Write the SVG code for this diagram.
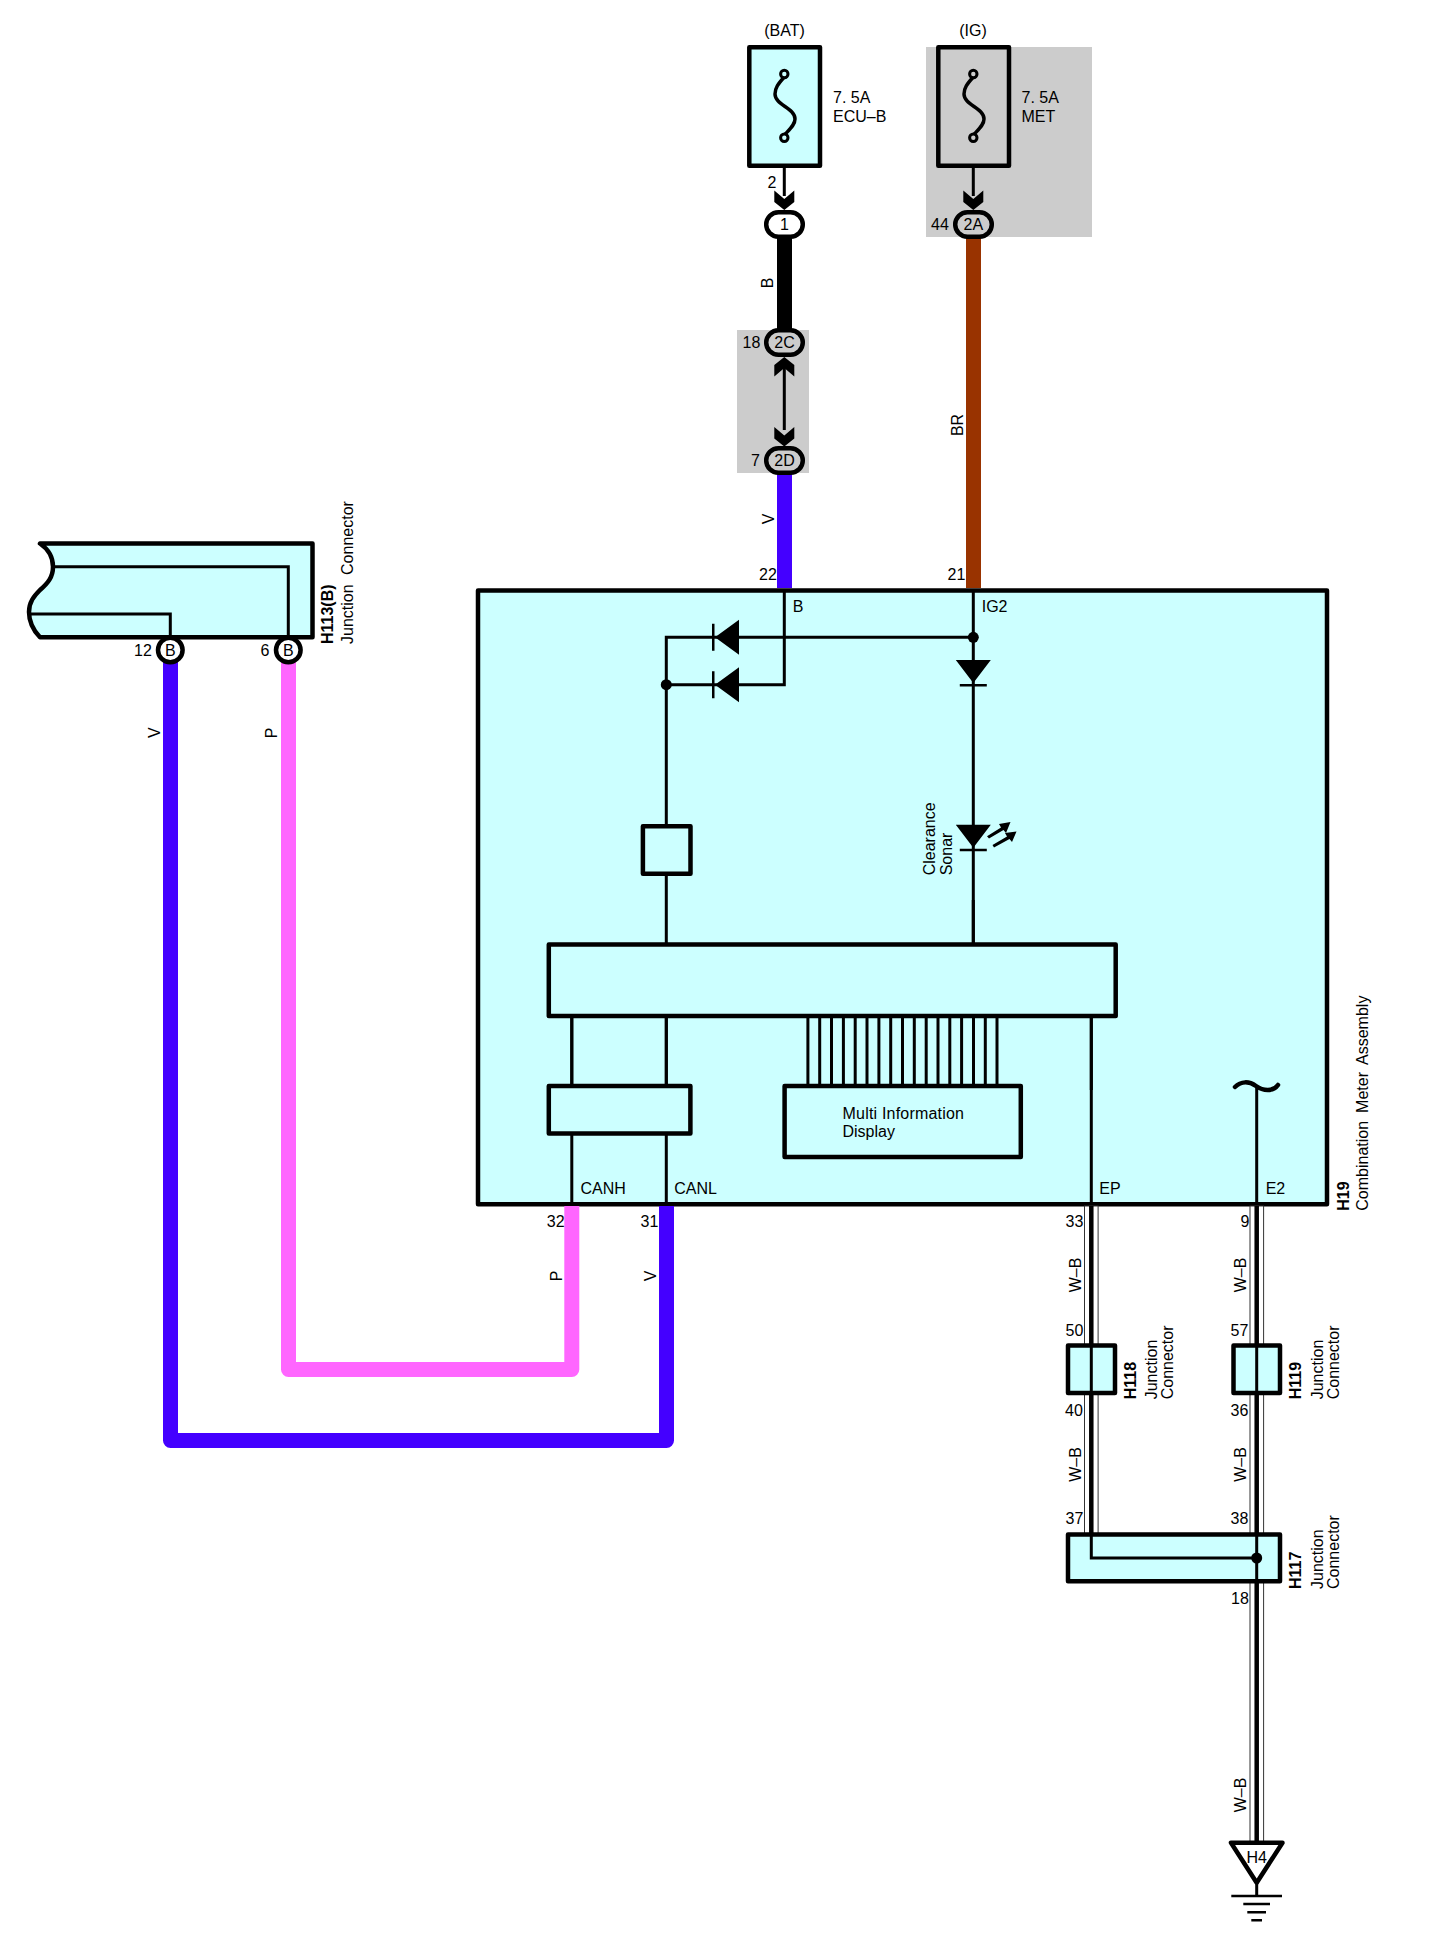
<svg xmlns="http://www.w3.org/2000/svg" width="1440" height="1938" viewBox="0 0 1440 1938">
<style>
text{font-family:"Liberation Sans",Arial,sans-serif;font-size:16px;fill:#000}
.b{font-weight:bold}
.m{text-anchor:middle}
.box{fill:#ccffff;stroke:#000;stroke-width:4.5;stroke-linejoin:round}
.panel{fill:#ccc}
.ln{fill:none;stroke:#000;stroke-width:3}
.thin{fill:none;stroke:#000;stroke-width:2.5}
.wire{fill:none;stroke-width:15;stroke-linejoin:round}
.sh{fill:#fff;stroke:#333;stroke-width:1}
.core{fill:none;stroke:#000;stroke-width:4.5}
.dot{fill:#000}
.fuse{fill:none;stroke:#000;stroke-width:3.5}
.pin{fill:#fff;stroke:#000;stroke-width:3}
.pinG{fill:#ccc;stroke:#000;stroke-width:3}
.conn{stroke:#000;stroke-width:4.5;fill:#fff}
.connG{stroke:#000;stroke-width:4.5;fill:#ccc}
</style>
<defs>
<path id="chev" d="M-10 -19.5 L0 -11 L10 -19.5 L10 -8 L0 0 L-10 -8 Z" fill="#000"/>
<path id="diodeL" d="M0 0 L24 -17.5 L24 17.5 Z M-3 -13.5 H-0.5 V13.5 H-3 Z" fill="#000"/>
<path id="diodeD" d="M-17.5 -24 H17.5 L0 -1 Z M-13.5 0 H13.5 V2.5 H-13.5 Z" fill="#000"/>
</defs>

<rect id="panel-ig" class="panel" x="926" y="47" width="166" height="190"/>
<rect id="panel-2c2d" class="panel" x="737" y="330" width="72" height="143"/>

<g id="main-box">
<rect class="box" x="478" y="590.5" width="849" height="613.8"/>
</g>

<g id="connectors">
<path class="wire" stroke="#000" d="M784.5 238V330"/>
<path class="wire" stroke="#4400ff" d="M784.5 474V588"/>
<path class="wire" stroke="#993300" d="M973.5 238V588"/>
<path class="wire" stroke="#4400ff" d="M170.5 662V1440.5H666.5V1206"/>
<path class="wire" stroke="#ff66ff" d="M288.5 662V1369.5H571.8V1206"/>
<path class="ln" d="M784.3 137V196M973.3 137V196M784.3 366V430"/>
<path class="ln" d="M784.3 591V684.7H666.3V637.3H973.3M973.3 591V944M666.3 684.7V944"/>
<path class="ln" d="M571.8 1016V1204M666.3 1016V1204M1091.3 1016V1204M1256.7 1088V1204"/>
<path class="ln" d="M807.9 1016V1086M819.7 1016V1086M831.5 1016V1086M843.4 1016V1086M855.2 1016V1086M867 1016V1086M878.9 1016V1086M890.7 1016V1086M902.5 1016V1086M914.3 1016V1086M926.2 1016V1086M938 1016V1086M949.8 1016V1086M961.6 1016V1086M973.5 1016V1086M985.3 1016V1086M997 1016V1086"/>
<path class="ln" d="M53 566.7H288.3V637M29 614H170.3V637"/>
<rect class="sh" x="1084.5" y="1206" width="13.6" height="328"/>
<rect class="sh" x="1250" y="1206" width="13.6" height="636"/>
<path class="core" d="M1091.3 1206V1345M1091.3 1393V1536M1256.7 1206V1345M1256.7 1393V1536M1256.7 1581V1842"/>
<path class="ln" d="M1256.7 1883V1896"/>
</g>

<g id="fuse-bat">
<rect class="box" x="749.3" y="47.3" width="70.7" height="118.5"/>
<path class="fuse" d="M784.3 77C778 84 775 88 775 94C775 105 795 108 795 119C795 125 790 129 784.3 135"/>
<circle class="pin" style="fill:#ccffff" cx="784.3" cy="74" r="3.7"/>
<circle class="pin" style="fill:#ccffff" cx="784.3" cy="137.7" r="3.7"/>
<text class="m" x="784.5" y="36">(BAT)</text>
<text x="833" y="103">7. 5A</text>
<text x="833" y="121.5">ECU–B</text>
</g>

<g id="fuse-ig">
<rect class="box" style="fill:#ccc" x="938.3" y="47.3" width="70.7" height="118.5"/>
<path class="fuse" d="M973.3 77C967 84 964 88 964 94C964 105 984 108 984 119C984 125 979 129 973.3 135"/>
<circle class="pinG" cx="973.3" cy="74" r="3.7"/>
<circle class="pinG" cx="973.3" cy="137.7" r="3.7"/>
<text class="m" x="973" y="36">(IG)</text>
<text x="1021.5" y="103">7. 5A</text>
<text x="1021.5" y="121.5">MET</text>
</g>

<g id="conn-1">
<use href="#chev" x="784.3" y="210"/>
<rect class="conn" x="766.2" y="212.2" width="36.6" height="24.6" rx="12.3"/>
<text class="m" x="784.5" y="229.5">1</text>
<text x="767.5" y="188">2</text>
</g>
<g id="conn-2a">
<use href="#chev" x="973.3" y="210"/>
<rect class="connG" x="955.2" y="212.2" width="36.6" height="24.6" rx="12.3"/>
<text class="m" x="973.3" y="229.5">2A</text>
<text x="931" y="229.5">44</text>
</g>
<g id="conn-2c">
<use href="#chev" transform="translate(784.3 357) scale(1 -1)"/>
<rect class="connG" x="766.2" y="330.2" width="36.6" height="24.6" rx="12.3"/>
<text class="m" x="784.5" y="347.7">2C</text>
<text x="742.5" y="347.7">18</text>
</g>
<g id="conn-2d">
<use href="#chev" x="784.3" y="446.5"/>
<rect class="connG" x="766.2" y="448.2" width="36.6" height="24.6" rx="12.3"/>
<text class="m" x="784.5" y="465.7">2D</text>
<text x="751" y="465.7">7</text>
</g>

<g id="h113b">
<path class="box" d="M40 543.5H312.5V637.3H40C33 630 29 622 29 612C29 602 34 596 40 590C48 583 53 577 53 566.7C53 556 48 549 40 543.5Z"/>
<path class="ln" d="M53 566.7H288.3V637M29 614H170.3V637"/>
<circle class="conn" cx="170.3" cy="650" r="12.3"/>
<text class="m" x="170.3" y="655.7">B</text>
<circle class="conn" cx="288.3" cy="650" r="12.3"/>
<text class="m" x="288.3" y="655.7">B</text>
<text x="134" y="655.7">12</text>
<text x="260.5" y="655.7">6</text>
<text class="b" transform="translate(333 644) rotate(-90)">H113(B)</text>
<text style="word-spacing:5px" transform="translate(352.7 644) rotate(-90)">Junction Connector</text>
</g>

<g id="diodes">
<use href="#diodeL" x="715" y="637.3"/>
<use href="#diodeL" x="715" y="684.7"/>
<use href="#diodeD" x="973.3" y="684"/>
<circle class="dot" cx="973.3" cy="637.3" r="5.5"/>
<circle class="dot" cx="666.3" cy="684.7" r="5.5"/>
</g>

<g id="led">
<use href="#diodeD" x="973.3" y="848.7"/>
<path d="M987 836.3L1001 827.5L999 824L1010.5 822L1006 833L1003.5 830L989 838.5Z M992.5 845L1007 836.5L1005 833L1016.5 831.5L1012 842L1009.5 839L994 847.5Z" fill="#000"/>
<text transform="translate(935 875.3) rotate(-90)">Clearance</text>
<text transform="translate(952.3 875.3) rotate(-90)">Sonar</text>
</g>

<g id="square"><rect class="box" x="642.9" y="826.2" width="47.6" height="47.6"/></g>
<g id="bus"><rect class="box" x="548.8" y="944.5" width="566.9" height="71.5"/></g>
<g id="can-box"><rect class="box" x="548.8" y="1086" width="141.6" height="47.5"/></g>
<path class="ln" d="M571.8 1016V1086M666.3 1016V1086M1091.3 1016V1090M973.3 900V944"/>
<g id="mid">
<rect class="box" x="784.6" y="1086" width="236.2" height="71"/>
<text style="letter-spacing:.2px" x="842.5" y="1119">Multi Information</text>
<text x="842.5" y="1136.7">Display</text>
</g>
<g id="tilde"><path d="M1235 1087C1241 1081 1249 1081 1256 1086C1263 1091 1273 1092 1278 1085" fill="none" stroke="#000" stroke-width="4.5" stroke-linecap="round"/></g>

<g id="h19-labels">
<text x="792.7" y="612">B</text>
<text x="981.7" y="612">IG2</text>
<text x="580.5" y="1194">CANH</text>
<text x="674.3" y="1194">CANL</text>
<text x="1099.3" y="1194">EP</text>
<text x="1265.7" y="1194">E2</text>
<text class="b" transform="translate(1349 1210.7) rotate(-90)">H19</text>
<text style="word-spacing:3.5px" transform="translate(1368.3 1210.7) rotate(-90)">Combination Meter Assembly</text>
</g>

<g id="h118">
<rect class="box" x="1068" y="1345.5" width="47" height="47.5"/>
<path class="ln" d="M1091.3 1345V1393"/>
<text class="b" transform="translate(1136 1399.3) rotate(-90)">H118</text>
<text transform="translate(1157.3 1399.3) rotate(-90)">Junction</text>
<text transform="translate(1173.3 1399.3) rotate(-90)">Connector</text>
</g>
<g id="h119">
<rect class="box" x="1233.5" y="1345.5" width="46.5" height="47.5"/>
<path class="ln" d="M1256.7 1345V1393"/>
<text class="b" transform="translate(1300.7 1399.3) rotate(-90)">H119</text>
<text transform="translate(1322.7 1399.3) rotate(-90)">Junction</text>
<text transform="translate(1339.3 1399.3) rotate(-90)">Connector</text>
</g>
<g id="h117">
<rect class="box" x="1068" y="1534.5" width="212" height="46.7"/>
<path class="ln" d="M1091.3 1534V1558H1256.7M1256.7 1534V1581"/>
<circle class="dot" cx="1256.7" cy="1558" r="5.5"/>
<text class="b" transform="translate(1300.7 1589) rotate(-90)">H117</text>
<text transform="translate(1322.7 1589) rotate(-90)">Junction</text>
<text transform="translate(1339.3 1589) rotate(-90)">Connector</text>
</g>

<g id="h4">
<path d="M1231 1842.7H1282.5L1256.7 1882.7Z" fill="#fff" stroke="#000" stroke-width="4.5" stroke-linejoin="round"/>
<text class="m" x="1256.7" y="1862.7">H4</text>
<path class="thin" d="M1231.3 1896H1282M1243.3 1904H1270M1247.3 1912.3H1266M1251.3 1920.3H1262"/>
</g>

<g id="wire-labels">
<text class="m" transform="translate(773 283) rotate(-90)">B</text>
<text class="m" transform="translate(963 425) rotate(-90)">BR</text>
<text class="m" transform="translate(774 519) rotate(-90)">V</text>
<text x="759" y="580">22</text>
<text x="947.5" y="580">21</text>
<text class="m" transform="translate(160 732.7) rotate(-90)">V</text>
<text class="m" transform="translate(277 733) rotate(-90)">P</text>
<text x="546.8" y="1226.7">32</text>
<text x="640.5" y="1226.7">31</text>
<text class="m" transform="translate(562 1276) rotate(-90)">P</text>
<text class="m" transform="translate(655.8 1276) rotate(-90)">V</text>
<text x="1065.5" y="1226.7">33</text>
<text x="1240.5" y="1226.7">9</text>
<text class="m" transform="translate(1080.7 1275) rotate(-90)">W–B</text>
<text class="m" transform="translate(1246 1275) rotate(-90)">W–B</text>
<text x="1065.5" y="1335.7">50</text>
<text x="1230.5" y="1335.7">57</text>
<text x="1065" y="1415.7">40</text>
<text x="1230.5" y="1415.7">36</text>
<text class="m" transform="translate(1080.7 1464.5) rotate(-90)">W–B</text>
<text class="m" transform="translate(1246 1464.5) rotate(-90)">W–B</text>
<text x="1065.5" y="1524">37</text>
<text x="1230.5" y="1524">38</text>
<text x="1231" y="1604.3">18</text>
<text class="m" transform="translate(1246 1795) rotate(-90)">W–B</text>
</g>
</svg>
